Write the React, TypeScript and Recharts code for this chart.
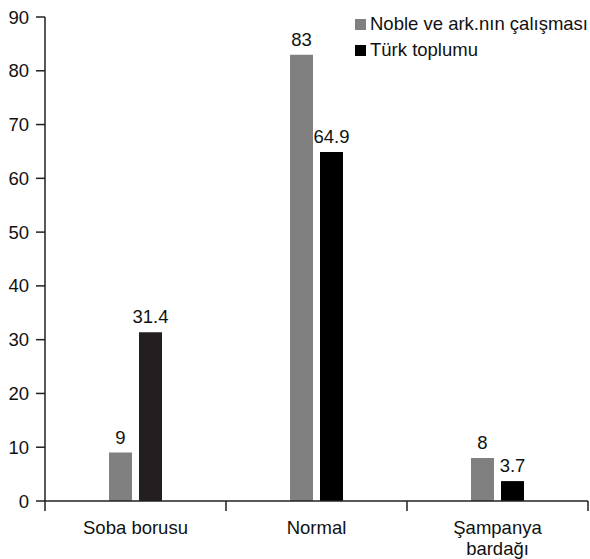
import { BarChart, Bar, XAxis, YAxis, Legend, LabelList, Cell } from "recharts";

const categories = ["Soba borusu", "Normal", "Şampanya bardağı"];
const tickLines = [["Soba borusu"], ["Normal"], ["Şampanya", "bardağı"]];
const noble = [9, 83, 8];
const turk = [31.4, 64.9, 3.7];
const yTicks = [0, 10, 20, 30, 40, 50, 60, 70, 80, 90];

const data = categories.map((name, i) => ({ name, noble: noble[i], turk: turk[i] }));

const FONT = "'Liberation Sans', Arial, Helvetica, sans-serif";
const FS = 18.5;
const AXIS = "#231f20";
const turkFills = ["#231f20", "#000000", "#000000"];

function CategoryTick(props: any) {
  const { x, y, payload, index, visibleTicksCount } = props;
  const half = payload?.offset ?? 90.5;
  const lines = tickLines[index] ?? [String(payload.value)];
  const isLast = index === (visibleTicksCount ?? categories.length) - 1;
  return (
    <g>
      <line x1={x - half} x2={x - half} y1={y} y2={y + 10} stroke={AXIS} strokeWidth={1.5} />
      {isLast && <line x1={x + half} x2={x + half} y1={y} y2={y + 10} stroke={AXIS} strokeWidth={1.5} />}
      <text x={x} y={y + 33} textAnchor="middle" fontSize={FS} fill="#111" fontFamily={FONT}>
        {lines.map((l: string, k: number) => (
          <tspan key={k} x={x} dy={k === 0 ? 0 : 21}>
            {l}
          </tspan>
        ))}
      </text>
    </g>
  );
}

function LegendBox({ payload }: any) {
  return (
    <div style={{ fontFamily: FONT, fontSize: FS, color: "#111" }}>
      {(payload || []).map((p: any) => (
        <div key={p.value} style={{ display: "flex", alignItems: "center", height: 26 }}>
          <span style={{ display: "inline-block", width: 11, height: 11, background: p.color, marginRight: 4 }} />
          <span style={{ whiteSpace: "nowrap" }}>{p.value}</span>
        </div>
      ))}
    </div>
  );
}

export default function App() {
  return (
    <div style={{ position: "absolute", left: 0, top: 0, width: 590, height: 559, background: "#fff" }}>
      <BarChart
        width={590}
        height={559}
        data={data}
        margin={{ top: 17, right: 2, bottom: 0, left: 0 }}
        barSize={23}
        barGap={7}
        style={{ fontFamily: FONT }}
      >
        <YAxis
          domain={[0, 90]}
          ticks={yTicks}
          width={45}
          tickSize={9}
          tickMargin={7}
          interval={0}
          axisLine={{ stroke: AXIS, strokeWidth: 1.5 }}
          tickLine={{ stroke: AXIS, strokeWidth: 1.5 }}
          tick={{ fontSize: FS, fill: "#111", fontFamily: FONT }}
        />
        <XAxis
          dataKey="name"
          height={58}
          tickSize={0}
          tickMargin={0}
          interval={0}
          axisLine={{ stroke: AXIS, strokeWidth: 1.5 }}
          tickLine={false}
          tick={<CategoryTick />}
        />
        <Legend
          layout="vertical"
          align="center"
          verticalAlign="middle"
          content={<LegendBox />}
          wrapperStyle={{ top: 11, left: 355, width: 235, height: 54 }}
        />
        <Bar dataKey="noble" name="Noble ve ark.nın çalışması" fill="#808080" isAnimationActive={false}>
          <LabelList dataKey="noble" position="top" offset={9} fontSize={FS} fill="#111" fontFamily={FONT} />
        </Bar>
        <Bar dataKey="turk" name="Türk toplumu" fill="#000000" isAnimationActive={false}>
          {data.map((_, i) => (
            <Cell key={i} fill={turkFills[i]} />
          ))}
          <LabelList dataKey="turk" position="top" offset={9} fontSize={FS} fill="#111" fontFamily={FONT} />
        </Bar>
      </BarChart>
    </div>
  );
}
